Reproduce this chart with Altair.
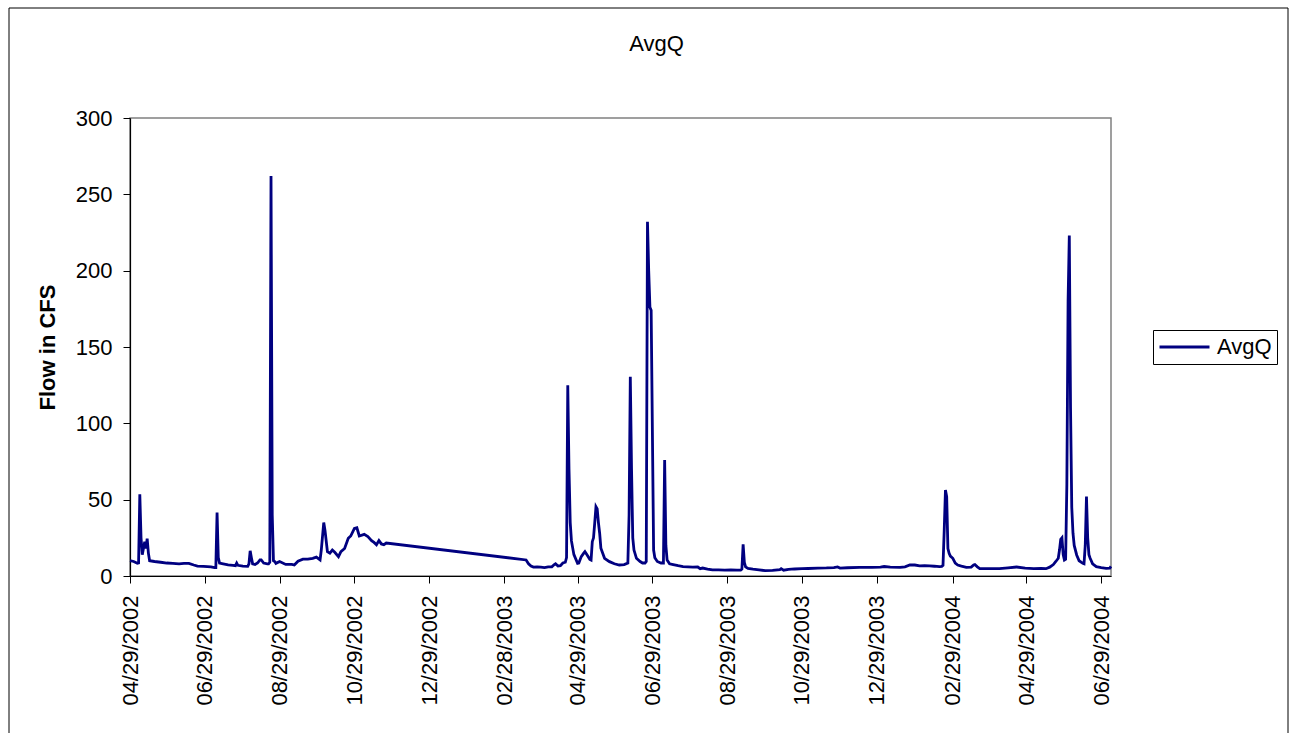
import altair as alt
import pandas as pd

FONT = "Liberation Sans"
LINE_COLOR = "#000080"

dates_spring_2002 = [
    "2002-04-29", "2002-05-02", "2002-05-05", "2002-05-06", "2002-05-07", "2002-05-08",
    "2002-05-09", "2002-05-11", "2002-05-12", "2002-05-13", "2002-05-14", "2002-05-15",
    "2002-05-19", "2002-05-24", "2002-05-29", "2002-06-03", "2002-06-08", "2002-06-12",
    "2002-06-16", "2002-06-20", "2002-06-23", "2002-06-28", "2002-07-04", "2002-07-07",
    "2002-07-08", "2002-07-09", "2002-07-10", "2002-07-11", "2002-07-14", "2002-07-18",
    "2002-07-22", "2002-07-24", "2002-07-25", "2002-07-26", "2002-07-30",
]
flow_spring_2002 = [
    10, 9.5, 8.3, 8.5, 53.5, 25,
    14, 22.5, 18, 24.5, 15, 10,
    9.5, 9, 8.5, 8.3, 8, 8.3,
    8.3, 7.2, 6.5, 6.3, 6, 5.5,
    5.5, 41.5, 12, 8.5, 8, 7.3,
    7, 6.8, 8.5, 7, 6.5,
]

dates_autumn_2002 = [
    "2002-08-03", "2002-08-04", "2002-08-05", "2002-08-06", "2002-08-07", "2002-08-09",
    "2002-08-11", "2002-08-13", "2002-08-14", "2002-08-16", "2002-08-19", "2002-08-20",
    "2002-08-21", "2002-08-22", "2002-08-23", "2002-08-24", "2002-08-25", "2002-08-26",
    "2002-08-29", "2002-09-03", "2002-09-08", "2002-09-10", "2002-09-13", "2002-09-17",
    "2002-09-21", "2002-09-25", "2002-09-28", "2002-10-01", "2002-10-02", "2002-10-04",
    "2002-10-05", "2002-10-07", "2002-10-09", "2002-10-11", "2002-10-13", "2002-10-16",
    "2002-10-18", "2002-10-21", "2002-10-24", "2002-10-26", "2002-10-29", "2002-10-31",
    "2002-11-02", "2002-11-06", "2002-11-09", "2002-11-12", "2002-11-14", "2002-11-16",
    "2002-11-18", "2002-11-20", "2002-11-22", "2002-11-24",
]
flow_autumn_2002 = [
    6.3, 8, 16.5, 12, 8, 7.5,
    8.5, 10.5, 10.5, 8.5, 8, 8,
    9, 262, 40, 10, 9.5, 8.3,
    9.5, 7.6, 7.6, 7.2, 9.7, 11,
    11, 11.6, 12.4, 10.6, 17, 35,
    30, 16, 15, 17, 15.5, 12.7,
    16, 18, 24.7, 26.2, 31.2, 31.6,
    26.2, 27.3, 25.8, 23.2, 22, 20.5,
    23.2, 21, 20.5, 21.6,
]

dates_spring_2003 = [
    "2003-03-18", "2003-03-20", "2003-03-22", "2003-03-24", "2003-03-27", "2003-03-30",
    "2003-04-02", "2003-04-05", "2003-04-08", "2003-04-10", "2003-04-11", "2003-04-13",
    "2003-04-15", "2003-04-17", "2003-04-19", "2003-04-20", "2003-04-21", "2003-04-22",
    "2003-04-23", "2003-04-24", "2003-04-26", "2003-04-29", "2003-04-30", "2003-05-02",
    "2003-05-04", "2003-05-05", "2003-05-06", "2003-05-09", "2003-05-10", "2003-05-11",
    "2003-05-12", "2003-05-13", "2003-05-14", "2003-05-15", "2003-05-16", "2003-05-17",
    "2003-05-18", "2003-05-21", "2003-05-25", "2003-05-29", "2003-06-02", "2003-06-06",
    "2003-06-09", "2003-06-10", "2003-06-11", "2003-06-12", "2003-06-13", "2003-06-14",
    "2003-06-16", "2003-06-19", "2003-06-21", "2003-06-23", "2003-06-24", "2003-06-25",
    "2003-06-26", "2003-06-27", "2003-06-28", "2003-06-30", "2003-07-01", "2003-07-03",
    "2003-07-06", "2003-07-08", "2003-07-09", "2003-07-10", "2003-07-11", "2003-07-13",
]
flow_spring_2003 = [
    10.5, 8, 6.5, 5.8, 6, 5.8,
    5.5, 6, 6, 7.5, 8, 6.5,
    6.8, 8.5, 9, 12, 125, 70,
    35, 23, 14, 8.3, 8.5, 12.7,
    15, 16, 14.8, 10.9, 10.5, 22.5,
    25, 35, 45.4, 44, 35, 28,
    18.2, 11.6, 9.4, 8, 7.2, 7.5,
    8.5, 40, 130.5, 70, 25, 17,
    11.6, 9.5, 8.5, 8.5, 9.5, 232,
    200, 176, 174, 17, 12, 9.5,
    8.5, 8.5, 76, 20, 10.5, 8,
]

dates_late_2003 = [
    "2003-07-16", "2003-07-20", "2003-07-24", "2003-07-28", "2003-08-01", "2003-08-05",
    "2003-08-07", "2003-08-09", "2003-08-13", "2003-08-17", "2003-08-22", "2003-08-27",
    "2003-09-01", "2003-09-06", "2003-09-09", "2003-09-10", "2003-09-11", "2003-09-12",
    "2003-09-13", "2003-09-15", "2003-09-19", "2003-09-24", "2003-09-29", "2003-10-05",
    "2003-10-11", "2003-10-12", "2003-10-14", "2003-10-18", "2003-10-23", "2003-10-29",
    "2003-11-03", "2003-11-11", "2003-11-18", "2003-11-24", "2003-11-27", "2003-11-29",
    "2003-12-05", "2003-12-15", "2003-12-25",
]
flow_late_2003 = [
    7.5, 6.8, 6.2, 6, 5.8, 5.9,
    4.8, 5.2, 4.5, 4, 4, 3.8,
    4, 3.9, 3.8, 4.5, 20.7, 9,
    6, 5, 4.5, 4, 3.5, 3.7,
    4.2, 4.8, 3.8, 4.3, 4.6, 4.8,
    4.9, 5.2, 5.3, 5.5, 5.9, 5.2,
    5.4, 5.6, 5.7,
]

dates_2004 = [
    "2004-01-01", "2004-01-04", "2004-01-09", "2004-01-17", "2004-01-21", "2004-01-25",
    "2004-01-29", "2004-02-02", "2004-02-06", "2004-02-10", "2004-02-14", "2004-02-18",
    "2004-02-20", "2004-02-21", "2004-02-22", "2004-02-23", "2004-02-24", "2004-02-25",
    "2004-02-26", "2004-02-27", "2004-02-29", "2004-03-02", "2004-03-04", "2004-03-07",
    "2004-03-11", "2004-03-15", "2004-03-17", "2004-03-18", "2004-03-20", "2004-03-22",
    "2004-03-29", "2004-04-07", "2004-04-14", "2004-04-21", "2004-04-28", "2004-05-05",
    "2004-05-11", "2004-05-15", "2004-05-18", "2004-05-21", "2004-05-23", "2004-05-25",
    "2004-05-26", "2004-05-27", "2004-05-28", "2004-05-29", "2004-05-30", "2004-05-31",
    "2004-06-01", "2004-06-02", "2004-06-03", "2004-06-04", "2004-06-05", "2004-06-06",
    "2004-06-07", "2004-06-09", "2004-06-11", "2004-06-14", "2004-06-15", "2004-06-16",
    "2004-06-17", "2004-06-18", "2004-06-19", "2004-06-20", "2004-06-22", "2004-06-25",
    "2004-06-29", "2004-07-03", "2004-07-06", "2004-07-07",
]
flow_2004 = [
    5.8, 6.2, 5.8, 5.7, 6, 7.2,
    7.2, 6.6, 6.8, 6.6, 6.4, 6.1,
    6.3, 7, 30, 56.3, 52, 18,
    14.8, 13, 11.6, 8.5, 7.2, 6.5,
    5.7, 5.8, 7.2, 7.5, 6, 4.8,
    4.8, 4.8, 5.3, 5.9, 5.2, 4.8,
    4.9, 4.8, 5.8, 7.5, 9.5, 11.6,
    17, 24, 25, 14, 10.5, 11,
    60, 180, 223, 110, 45, 28,
    20, 13.8, 10, 8.3, 8, 20,
    52, 25, 14, 11.6, 8, 6.1,
    5.5, 5, 5.2, 6.3,
]

series_name = ["AvgQ"]
tick_labels = [
    "04/29/2002", "06/29/2002", "08/29/2002", "10/29/2002", "12/29/2002", "02/28/2003",
    "04/29/2003", "06/29/2003", "08/29/2003", "10/29/2003", "12/29/2003", "02/29/2004",
    "04/29/2004", "06/29/2004",
]
y_ticks = [0, 50, 100, 150, 200, 250, 300]

# ---- assemble ----
all_dates = (dates_spring_2002 + dates_autumn_2002 + dates_spring_2003
             + dates_late_2003 + dates_2004)
all_flow = (flow_spring_2002 + flow_autumn_2002 + flow_spring_2003
            + flow_late_2003 + flow_2004)
df = pd.DataFrame({
    "date": pd.to_datetime(all_dates),
    "flow": all_flow,
    "series": series_name[0],
})


def to_dt(label):
    m, d, y = label.split("/")
    return alt.DateTime(year=int(y), month=int(m), date=int(d))


x_values = [to_dt(t) for t in tick_labels]
x_domain = [alt.DateTime(year=2002, month=4, date=29), alt.DateTime(year=2004, month=7, date=7)]

line = alt.Chart(df).mark_line(strokeWidth=2.8, interpolate="linear").encode(
    x=alt.X(
        "date:T",
        scale=alt.Scale(domain=x_domain, nice=False),
        axis=alt.Axis(
            values=x_values,
            format="%m/%d/%Y",
            labelAngle=270,
            labelFontSize=22,
            labelPadding=12,
            labelOverlap=False,
            labelFlush=False,
            tickSize=7,
            grid=False,
            title=None,
        ),
    ),
    y=alt.Y(
        "flow:Q",
        scale=alt.Scale(domain=[0, 300], nice=False),
        axis=alt.Axis(
            values=y_ticks,
            labelFontSize=22,
            labelPadding=11,
            tickSize=7,
            grid=False,
            title="Flow in CFS",
            titleFontSize=22,
            titleFontWeight="bold",
            titleX=-76,
            titleY=229,
            titleAngle=270,
            titleBaseline="alphabetic",
            titleAlign="center",
        ),
    ),
    color=alt.Color(
        "series:N",
        title=None,
        scale=alt.Scale(domain=series_name, range=[LINE_COLOR]),
        legend=alt.Legend(
            orient="none",
            legendX=1023,
            legendY=212,
            symbolType="stroke",
            symbolSize=2500,
            symbolStrokeWidth=3,
            clipHeight=24,
            labelFontSize=22,
            labelOffset=6,
            labelColor="black",
            strokeColor="black",
            fillColor="white",
            padding=5,
        ),
    ),
)

frame = alt.Chart(alt.Data(values=[{"k": 1}])).mark_rect(
    fillOpacity=0, stroke="black", strokeWidth=1
).encode(
    x=alt.value(-121), x2=alt.value(1158), y=alt.value(-110), y2=alt.value(640)
)

# the outer frame reaches 110 px above the plot, and the top title is placed above
# everything in the view, so shift it back down with dy
chart = alt.layer(frame, line).properties(
    width=981,
    height=458,
    padding={"left": 130, "top": 118, "right": 185, "bottom": 157},
    autosize=alt.AutoSizeParams(type="none"),
    title=alt.TitleParams(
        "AvgQ", fontSize=22, font=FONT, fontWeight="normal", color="black",
        anchor="middle", frame="group", dx=36, dy=130, offset=65, baseline="alphabetic",
    ),
    background="white",
).configure_view(
    stroke="#808080", strokeWidth=1.5
).configure_axis(
    labelFont=FONT, titleFont=FONT, labelColor="black", titleColor="black",
    domainColor="black", tickColor="black", domainWidth=1.2,
).configure_legend(
    labelFont=FONT,
)

chart.save("out.html", embed_options={"renderer": "svg", "actions": False})
